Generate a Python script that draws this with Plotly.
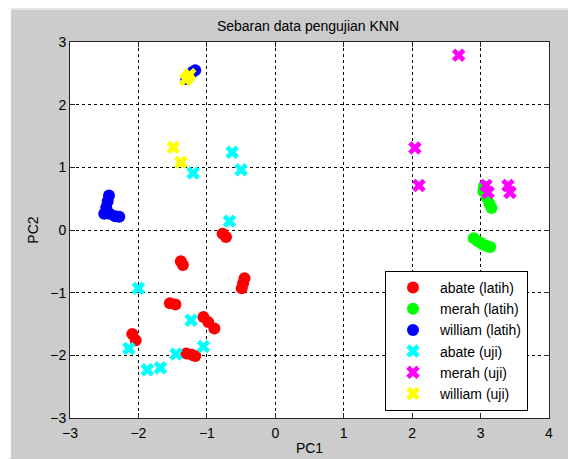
import plotly.graph_objects as go

# abate (latih) - red circles
abate_latih_x = [-0.77, -0.72, -1.38, -1.35, -0.45, -0.47, -0.49, -1.54, -1.46,
                 -1.05, -0.98, -0.89, -2.09, -2.04, -1.30, -1.22, -1.17]
abate_latih_y = [-0.06, -0.11, -0.50, -0.56, -0.77, -0.85, -0.93, -1.17, -1.19,
                 -1.39, -1.47, -1.57, -1.66, -1.76, -1.97, -1.99, -2.01]

# merah (latih) - green circles
merah_latih_x = [3.05, 3.04, 3.09, 3.13, 3.16, 2.90, 2.96, 3.02, 3.08, 3.14]
merah_latih_y = [0.70, 0.62, 0.52, 0.42, 0.35, -0.13, -0.18, -0.22, -0.25, -0.27]

# william (latih) - blue circles
william_latih_x = [-2.43, -2.45, -2.47, -2.50, -2.42, -2.34, -2.28, -1.17, -1.21, -1.27, -1.30]
william_latih_y = [0.55, 0.46, 0.36, 0.26, 0.26, 0.22, 0.21, 2.55, 2.52, 2.45, 2.41]

# abate (uji) - cyan crosses
abate_uji_x = [-1.20, -0.63, -0.50, -0.67, -2.00, -1.23, -1.05, -1.45, -2.14, -1.87, -1.68]
abate_uji_y = [0.91, 1.24, 0.96, 0.14, -0.93, -1.44, -1.86, -1.98, -1.89, -2.23, -2.20]

# merah (uji) - magenta crosses
merah_uji_x = [2.68, 2.04, 2.10, 3.08, 3.11, 3.40, 3.43]
merah_uji_y = [2.79, 1.31, 0.71, 0.71, 0.60, 0.71, 0.60]

# william (uji) - yellow crosses
william_uji_x = [-1.31, -1.28, -1.25, -1.49, -1.38]
william_uji_y = [2.40, 2.44, 2.48, 1.32, 1.08]

x_ticks = [-3, -2, -1, 0, 1, 2, 3, 4]
y_ticks = [-3, -2, -1, 0, 1, 2, 3]

FONT = "Liberation Sans, Arial, sans-serif"
FS = 14

series = [
    ("abate (latih)", abate_latih_x, abate_latih_y, "#ff0000", "circle"),
    ("merah (latih)", merah_latih_x, merah_latih_y, "#00ff00", "circle"),
    ("william (latih)", william_latih_x, william_latih_y, "#0000ff", "circle"),
    ("abate (uji)", abate_uji_x, abate_uji_y, "#00ffff", "x"),
    ("merah (uji)", merah_uji_x, merah_uji_y, "#ff00ff", "x"),
    ("william (uji)", william_uji_x, william_uji_y, "#ffff00", "x"),
]

fig = go.Figure()
for name, xs, ys, col, sym in series:
    fig.add_trace(go.Scatter(
        x=xs, y=ys, mode="markers", name=name,
        marker=dict(color=col, symbol=sym, size=12, line=dict(width=0)),
    ))

axis_common = dict(
    showgrid=True, gridcolor="#000000", gridwidth=1, griddash="3px,3px",
    zeroline=False, showline=True, linecolor="#262626", linewidth=1,
    mirror="ticks", ticks="inside", ticklen=5, tickcolor="#262626",
    tickfont=dict(family=FONT, size=FS, color="#000000"),
    automargin=False,
)

# The page adds an 8px body margin, so the figure is sized to fit the window.
W, H = 568, 451
L, R, T, B = 62, 27, 33.5, 40.5
PW, PH = W - L - R, H - T - B

fig.update_layout(
    width=W, height=H,
    paper_bgcolor="#cccccc", plot_bgcolor="#ffffff",
    margin=dict(l=L, r=R, t=T, b=B, autoexpand=False),
    font=dict(family=FONT, size=FS, color="#000000"),
    title=dict(text="Sebaran data pengujian KNN", x=300 / W, xanchor="center",
               y=1 - 18 / H, yanchor="middle", yref="container",
               font=dict(family=FONT, size=FS, color="#000000")),
    xaxis=dict(range=[-3, 4], tickvals=x_ticks, ticklabelstandoff=2,
               title=dict(text="PC1", standoff=3, font=dict(family=FONT, size=FS)),
               **axis_common),
    yaxis=dict(range=[-3, 3], tickvals=y_ticks,
               title=dict(text="PC2", standoff=8, font=dict(family=FONT, size=FS)),
               **axis_common),
    legend=dict(x=(377 - L) / PW, y=1 - (263 - T) / PH, xanchor="left", yanchor="top",
                bgcolor="#ffffff", bordercolor="#000000", borderwidth=1,
                font=dict(family=FONT, size=FS, color="#000000"),
                itemwidth=44),
    showlegend=True,
)

# thin white frame at the top and left of the grey panel
fig.add_shape(type="rect", xref="paper", yref="paper", x0=-L / PW, x1=(W - L) / PW,
              y0=1 + (T - 1) / PH, y1=1 + T / PH, fillcolor="#ffffff", line_width=0, layer="below")
fig.add_shape(type="rect", xref="paper", yref="paper", x0=-L / PW, x1=(3 - L) / PW,
              y0=-B / PH, y1=1 + T / PH, fillcolor="#ffffff", line_width=0, layer="below")

fig.write_html("out.html")
